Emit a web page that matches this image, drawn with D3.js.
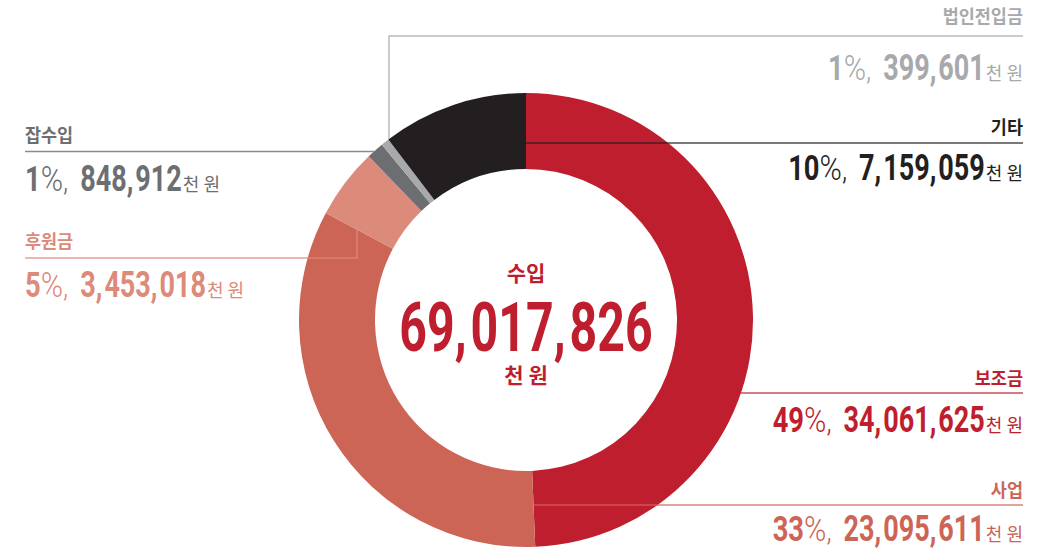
<!DOCTYPE html>
<html>
<head>
<meta charset="utf-8">
<script src="https://cdn.jsdelivr.net/npm/d3@7"></script>
<style>
  html, body { margin: 0; padding: 0; background: #fff; }
  svg { display: block; }
</style>
</head>
<body>
<svg id="chart" width="1053" height="549"></svg>
<script>
// data
const categories = ["보조금", "사업", "후원금", "잡수입", "법인전입금", "기타"];
const values = [34061625, 23095611, 3453018, 848912, 399601, 7159059];
const colors = ["#be1e2d", "#cd6557", "#dc8a79", "#6d6e71", "#a7a9ac", "#231f20"];
const totalLabel = "수입";
const unitLabel = "천 원";

// label layout (line y, name baseline, value baseline, where the leader meets the ring)
const leaders = [
    {side: "right", lineY: 393, nameY: 385, valueY: 432, from: "outer"},
    {side: "right", lineY: 505, nameY: 497, valueY: 541, from: "startRay"},
    {side: "left", lineY: 258, nameY: 248, valueY: 297, from: "startRay", elbowX: 357},
    {side: "left", lineY: 151.5, nameY: 142, valueY: 191, from: "outer"},
    {side: "right", lineY: 36, nameY: 23, valueY: 80, from: "outer", elbowX: 389},
    {side: "right", lineY: 143, nameY: 134, valueY: 180, from: "endRay"}
];

const svg = d3.select("#chart");
const cx = 526, cy = 320, outerR = 227, innerR = 151;
const leftX = 25, rightX = 1023;
const numFont = "Roboto, 'Liberation Sans', sans-serif";
const krFont = "'Noto Sans CJK KR', 'Noto Sans', sans-serif";

const total = d3.sum(values);
const rows = categories.map((c, i) => ({name: c, value: values[i], color: colors[i], layout: leaders[i]}));

const pie = d3.pie().sort(null).value(d => d.value);
const arc = d3.arc().innerRadius(innerR).outerRadius(outerR);
const arcs = pie(rows);

const ring = svg.append("g").attr("transform", `translate(${cx},${cy})`);
ring.selectAll("path")
    .data(arcs)
    .enter().append("path")
    .attr("d", arc)
    .attr("fill", d => d.data.color);

// ring geometry helpers (angles clockwise from 12 o'clock)
function rayAtY(a, y) {
    const r = (y - cy) / (-Math.cos(a));
    return cx + r * Math.sin(a);
}
function rayAtX(a, x) {
    const r = (x - cx) / Math.sin(a);
    return cy - r * Math.cos(a);
}
function outerAtY(y, side) {
    const dx = Math.sqrt(outerR * outerR - (y - cy) * (y - cy));
    return side === "right" ? cx + dx : cx - dx;
}
function outerAtX(x) {
    return cy - Math.sqrt(outerR * outerR - (x - cx) * (x - cx));
}

// leader lines
const lines = svg.append("g").attr("class", "leaders");
arcs.forEach(d => {
    const L = d.data.layout;
    const endX = L.side === "right" ? rightX : leftX;
    let pts;
    if (L.elbowX != null) {
        let y0;
        if (L.from === "outer") y0 = outerAtX(L.elbowX);
        else y0 = rayAtX(L.from === "startRay" ? d.startAngle : d.endAngle, L.elbowX);
        pts = [[L.elbowX, y0], [L.elbowX, L.lineY], [endX, L.lineY]];
    } else {
        let x0;
        if (L.from === "outer") x0 = outerAtY(L.lineY, L.side);
        else x0 = rayAtY(L.from === "startRay" ? d.startAngle : d.endAngle, L.lineY);
        pts = [[x0, L.lineY], [endX, L.lineY]];
    }
    lines.append("path")
        .attr("d", d3.line()(pts))
        .attr("fill", "none")
        .attr("stroke", d.data.color)
        .attr("stroke-opacity", 0.8)
        .attr("stroke-width", 1.5);
});

// lays out text pieces in one row, each with its own horizontal squeeze
function piecesRow(g, pieces, x, y, anchor) {
    const nodes = pieces.map(p => {
        const t = g.append("text")
            .attr("font-family", p.family)
            .attr("font-size", p.size)
            .attr("font-weight", p.weight)
            .attr("fill", p.fill)
            .text(p.text);
        const w = t.node().getComputedTextLength() * (p.sx || 1) + (p.gap || 0);
        return {t, w, p};
    });
    const totalW = d3.sum(nodes, n => n.w);
    let cur = anchor === "end" ? x - totalW : anchor === "middle" ? x - totalW / 2 : x;
    nodes.forEach(n => {
        n.t.attr("transform", `translate(${cur},${y}) scale(${n.p.sx || 1},1)`);
        cur += n.w;
    });
}

// a formatted number split at the commas, with a little air after each comma
const fmt = d3.format(",");
function numberPieces(v, style, gap) {
    const groups = fmt(v).split(",");
    return groups.map((g, i) => Object.assign({}, style, {
        text: i < groups.length - 1 ? g + "," : g,
        gap: i < groups.length - 1 ? gap : 0
    }));
}

const labels = svg.append("g").attr("class", "labels");
arcs.forEach(d => {
    const L = d.data.layout;
    const c = d.data.color;
    const x = L.side === "right" ? rightX : leftX;
    const anchor = L.side === "right" ? "end" : "start";
    const pct = Math.round(d.data.value / total * 100);

    piecesRow(labels, [
        {text: d.data.name, family: krFont, size: 18, weight: 700, fill: c, sx: 0.97}
    ], x, L.nameY, anchor);

    const big = {family: numFont, size: 36, weight: 700, fill: c, sx: 0.75};
    const amount = numberPieces(d.data.value, big, 2);
    amount[amount.length - 1].gap = 1;
    piecesRow(labels, [
        {text: pct, family: numFont, size: 36, weight: 700, fill: c, sx: 0.76},
        {text: "%", family: numFont, size: 36, weight: 300, fill: c, sx: 0.84},
        {text: ",", family: numFont, size: 30, weight: 300, fill: c, sx: 0.9, gap: 12},
        ...amount,
        {text: unitLabel, family: krFont, size: 18, weight: 400, fill: c, sx: 1}
    ], x, L.valueY, anchor);
});

// centre total
const red = colors[0];
piecesRow(svg, [{text: totalLabel, family: krFont, size: 21, weight: 700, fill: red}], cx, 281, "middle");
piecesRow(svg, numberPieces(total, {family: numFont, size: 68, weight: 700, fill: red, sx: 0.71}, 4), cx, 351, "middle");
piecesRow(svg, [{text: unitLabel, family: krFont, size: 21, weight: 700, fill: red}], cx, 383, "middle");
</script>
</body>
</html>
